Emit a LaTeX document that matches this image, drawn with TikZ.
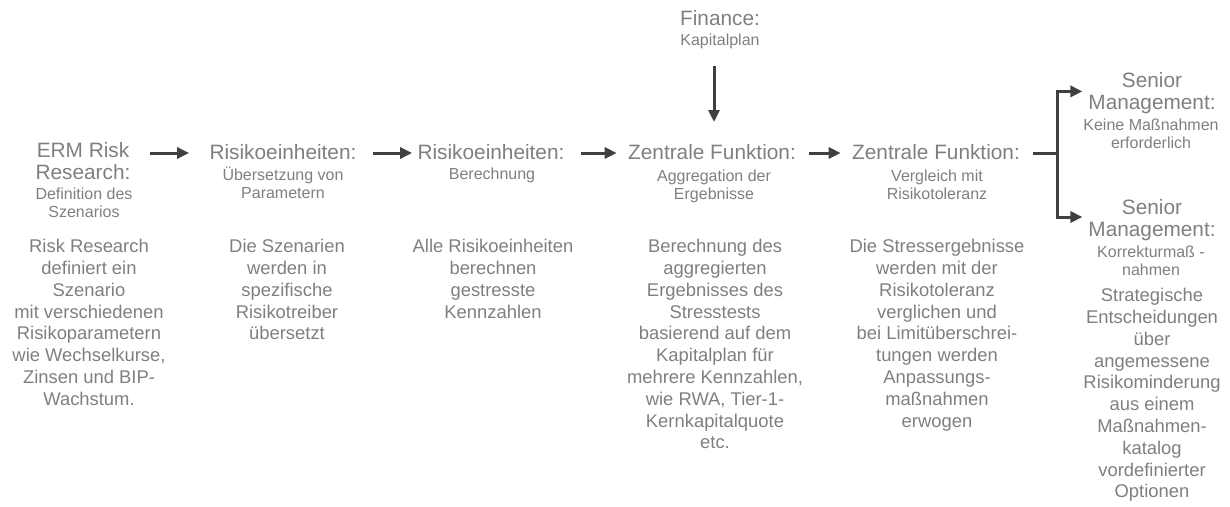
\documentclass[tikz,border=0pt]{standalone}
\usepackage{fontspec}
\setmainfont{Liberation Sans}
\usetikzlibrary{arrows.meta,calc}
\definecolor{txt}{HTML}{7F7F7F}
\definecolor{arrc}{HTML}{404040}
\newcommand\stk[2]{\vtop{\baselineskip=#1\relax\lineskiplimit=-\maxdimen\lineskip=0pt\halign{\hfil##\hfil\cr#2\crcr}}}
\tikzset{
  ttl/.style={anchor=base,inner sep=0pt,outer sep=0pt,text=txt,font=\fontsize{20.8}{22}\selectfont},
  subt/.style={anchor=base,inner sep=0pt,outer sep=0pt,text=txt,font=\fontsize{16}{18}\selectfont},
  body/.style={anchor=base,inner sep=0pt,outer sep=0pt,text=txt,font=\fontsize{18.4}{21.8}\selectfont},
  arr/.style={draw=arrc,line width=3pt,-{Triangle[length=12pt,width=11pt]}},
  conn/.style={draw=arrc,line width=3pt}
}
\begin{document}
\begin{tikzpicture}[x=1pt,y=-1pt]
\useasboundingbox (0,0) rectangle (1230,506);
% column 1
\node[ttl] (h1) at (83,157.5) {\stk{22pt}{ERM Risk\cr Research:}};
\node[subt] (h1s) at (84,199) {\stk{18pt}{Definition des\cr Szenarios}};
\node[body] (b1) at (89,252.6) {\stk{21.8pt}{Risk Research\cr definiert ein\cr Szenario\cr mit verschiedenen\cr Risikoparametern\cr wie Wechselkurse,\cr Zinsen und BIP-\cr Wachstum.}};
% column 2
\node[ttl] (h2) at (283,159) {\stk{22pt}{Risikoeinheiten:}};
\node[subt] (h2s) at (283,180) {\stk{18pt}{Übersetzung von\cr Parametern}};
\node[body] (b2) at (287,252.6) {\stk{21.8pt}{Die Szenarien\cr werden in\cr spezifische\cr Risikotreiber\cr übersetzt}};
% column 3
\node[ttl] (h3) at (491,159) {\stk{22pt}{Risikoeinheiten:}};
\node[subt] (h3s) at (492,179.5) {\stk{18pt}{Berechnung}};
\node[body] (b3) at (493,252.6) {\stk{21.8pt}{Alle Risikoeinheiten\cr berechnen\cr gestresste\cr Kennzahlen}};
% finance
\node[ttl] (fin) at (720,25.4) {\stk{22pt}{Finance:}};
\node[subt] (fins) at (720,45.8) {\stk{18pt}{Kapitalplan}};
% column 4
\node[ttl] (h4) at (712,159) {\stk{22pt}{Zentrale Funktion:}};
\node[subt] (h4s) at (714,181) {\stk{18pt}{Aggregation der\cr Ergebnisse}};
\node[body] (b4) at (715,252.6) {\stk{21.8pt}{Berechnung des\cr aggregierten\cr Ergebnisses des\cr Stresstests\cr basierend auf dem\cr Kapitalplan für\cr mehrere Kennzahlen,\cr wie RWA, Tier-1-\cr Kernkapitalquote\cr etc.}};
% column 5
\node[ttl] (h5) at (936,159) {\stk{22pt}{Zentrale Funktion:}};
\node[subt] (h5s) at (937,181) {\stk{18pt}{Vergleich mit\cr Risikotoleranz}};
\node[body] (b5) at (937,252.6) {\stk{21.8pt}{Die Stressergebnisse\cr werden mit der\cr Risikotoleranz\cr verglichen und\cr bei Limitüberschrei-\cr tungen werden\cr Anpassungs-\cr maßnahmen\cr erwogen}};
% senior management
\node[ttl] (sm1) at (1152,87.4) {\stk{22pt}{Senior\cr Management:}};
\node[subt] (sm1s) at (1151,130) {\stk{18pt}{Keine Maßnahmen\cr erforderlich}};
\node[ttl] (sm2) at (1152,214) {\stk{22pt}{Senior\cr Management:}};
\node[subt] (sm2s) at (1151,257) {\stk{18pt}{Korrekturmaß -\cr nahmen}};
\node[body] (b6) at (1152,301.6) {\stk{21.8pt}{Strategische\cr Entscheidungen\cr über\cr angemessene\cr Risikominderung\cr aus einem\cr Maßnahmen-\cr katalog\cr vordefinierter\cr Optionen}};
% connectors
\coordinate (row) at (0,153);
\draw[arr] ($(h1.east|-row)+(19.5,0)$) -- ($(h2.west|-row)+(-20.5,0)$);
\draw[arr] ($(h2.east|-row)+(16.5,0)$) -- ($(h3.west|-row)+(-5.5,0)$);
\draw[arr] ($(h3.east|-row)+(16.5,0)$) -- ($(h4.west|-row)+(-11.5,0)$);
\draw[arr] ($(h4.east|-row)+(13.5,0)$) -- ($(h5.west|-row)+(-11.5,0)$);
\draw[arr] ($(fins.base)+(-6,20)$) -- ($(h4.base)+(2,-37)$);
\coordinate (br) at ($(h5.east|-row)+(37.5,0)$);
\draw[conn] ($(h5.east|-row)+(13.5,0)$) -- (br);
\draw[arr] (br) |- ($(sm1.west|-sm1.base)+(-6,4)$);
\draw[arr] (br) |- ($(sm2.west|-sm2.base)+(-6,3)$);
\end{tikzpicture}
\end{document}
